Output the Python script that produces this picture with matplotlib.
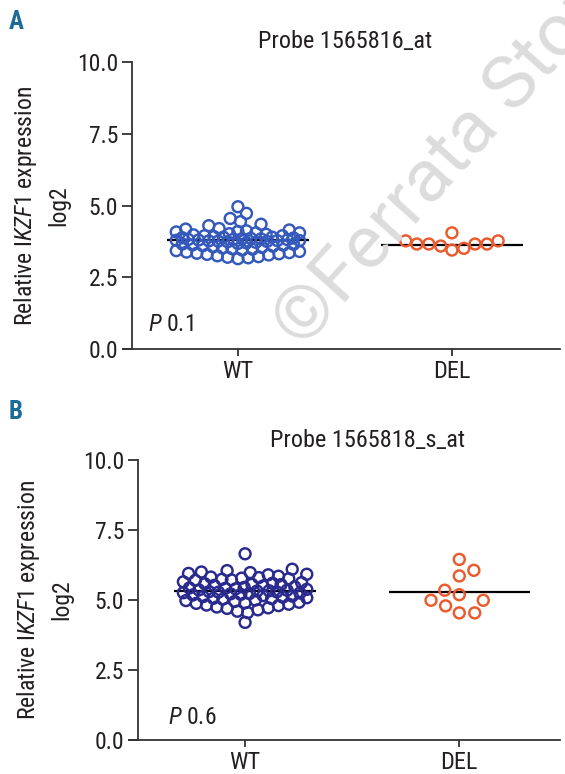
import numpy as np
import matplotlib
matplotlib.use("Agg")
import matplotlib.pyplot as plt

FAM = ['Roboto Condensed', 'Liberation Sans Narrow', 'Roboto', 'DejaVu Sans']
plt.rcParams['font.family'] = FAM
plt.rcParams['mathtext.fontset'] = 'custom'
plt.rcParams['mathtext.rm'] = 'Roboto Condensed'
plt.rcParams['mathtext.it'] = 'Roboto Condensed:italic'

# --- data ---
groups = ['WT', 'DEL']

probe_a = 'Probe 1565816_at'
wt_a = [4.96, 4.73, 4.55, 4.44, 4.35, 4.30,
        4.20, 4.18, 4.15, 4.12, 4.10, 4.08, 4.05, 4.05, 4.02,
        4.00, 3.98, 3.95, 3.95, 3.92, 3.90, 3.90, 3.88, 3.87, 3.86, 3.85,
        3.84, 3.83, 3.82, 3.81, 3.80, 3.79, 3.78, 3.78, 3.77, 3.76, 3.75,
        3.74, 3.72, 3.70, 3.68, 3.66, 3.65, 3.63, 3.62, 3.60, 3.58, 3.56,
        3.54, 3.52, 3.50, 3.48, 3.45, 3.43, 3.40, 3.38, 3.36, 3.34, 3.32,
        3.30, 3.28, 3.25, 3.22, 3.20, 3.18, 3.15]
del_a = [3.66, 3.66, 3.59, 3.77, 3.45, 3.77, 3.51, 4.05, 3.66, 3.66]
med_a = [3.80, 3.64]
p_a = '0.1'

probe_b = 'Probe 1565818_s_at'
wt_b = [6.65,
        6.10, 6.05, 6.00, 5.98, 5.95, 5.92, 5.90,
        5.85, 5.82, 5.80, 5.78, 5.76, 5.74, 5.72, 5.70,
        5.65, 5.62, 5.60, 5.58, 5.56, 5.55, 5.52, 5.50,
        5.47, 5.45, 5.43, 5.42, 5.40, 5.38, 5.36, 5.35, 5.33, 5.32,
        5.30, 5.29, 5.28, 5.26, 5.25, 5.23, 5.22, 5.20, 5.18, 5.16,
        5.14, 5.12, 5.10, 5.08, 5.06, 5.05, 5.03, 5.00,
        4.98, 4.95, 4.92, 4.90, 4.88, 4.85, 4.82, 4.80,
        4.75, 4.72, 4.70, 4.65, 4.60, 4.55,
        4.20]
del_b = [6.45, 6.06, 5.86, 5.35, 5.19, 4.99, 4.99, 4.79, 4.54, 4.54]
med_b = [5.31, 5.29]
p_b = '0.6'

yticks = [0.0, 2.5, 5.0, 7.5, 10.0]


def swarm(vals, sx, sy, min_px, maxw, step=0.004):
    # beeswarm kept inside +-maxw; once full, points overlap where there is most room
    vals = np.asarray(vals, float)
    order = np.argsort(vals)
    n = int(round(maxw / step))
    cands = [0.0]
    for k in range(1, n + 1):
        cands += [k * step, -k * step]
    cands = np.array(cands)
    placed_o, placed_v = [], []
    offs = np.zeros(len(vals))
    for i in order:
        if placed_o:
            po = np.array(placed_o)
            pv = np.array(placed_v)
            d = np.sqrt(((cands[:, None] - po[None, :]) * sx) ** 2 +
                        ((vals[i] - pv[None, :]) * sy) ** 2).min(axis=1)
            good = np.where(d >= min_px)[0]
            j = good[0] if len(good) else int(np.argmax(d))
        else:
            j = 0
        offs[i] = cands[j]
        placed_o.append(cands[j])
        placed_v.append(vals[i])
    return offs


fig = plt.figure(figsize=(5.65, 7.74), dpi=100)

panels = [
    dict(rect=[0.2336, 0.549, 0.7575, 0.3708], xlim=(-0.495, 1.505), wt=wt_a, dl=del_a,
         med=med_a, wtc='#3459bb', title=probe_a, tx=0.498, p=p_a, px=-0.42, py=0.85,
         letter='A', ly=0.972, sy=28.7, dmin=11.5, lpad=5),
    dict(rect=[0.2442, 0.0439, 0.7469, 0.3618], xlim=(-0.5, 1.47), wt=wt_b, dl=del_b,
         med=med_b, wtc='#2a2a8e', title=probe_b, tx=0.545, p=p_b, px=-0.36, py=0.82,
         letter='B', ly=0.468, sy=28.0, dmin=15.0, lpad=7),
]
del_color = '#ea5a2c'
txt = '#231f20'

for pn in panels:
    ax = fig.add_axes(pn['rect'])
    ax.set_xlim(*pn['xlim'])
    ax.set_ylim(0, 10)
    sx = 214.0
    for gi, (vals, col, md) in enumerate([(pn['wt'], pn['wtc'], 10.0),
                                          (pn['dl'], del_color, pn['dmin'])]):
        ax.hlines(pn['med'][gi], gi - 0.33, gi + 0.33, color='black', lw=1.6, zorder=2)
        offs = swarm(vals, sx, pn['sy'], md, 0.29)
        ax.scatter(gi + offs, vals, s=62, facecolors='none', edgecolors=col,
                   linewidths=1.75, zorder=3, clip_on=False)

    ax.spines['top'].set_visible(False)
    ax.spines['right'].set_visible(False)
    for s in ['left', 'bottom']:
        ax.spines[s].set_linewidth(1.3)
        ax.spines[s].set_color('#333333')
    ax.spines['bottom'].set_bounds(pn['xlim'][0] - 0.04, pn['xlim'][1])
    ax.set_yticks(yticks)
    ax.set_yticklabels([f'{t:.1f}' for t in yticks])
    ax.set_xticks([0, 1])
    ax.set_xticklabels(groups)
    ax.tick_params(axis='y', length=7, width=1.2, labelsize=17, colors=txt, pad=3)
    ax.tick_params(axis='x', length=5, width=1.2, labelsize=17.5, colors=txt, pad=3)
    ax.set_ylabel('Relative I$\\mathit{KZF1}$ expression\nlog2', fontsize=17,
                  color=txt, labelpad=pn['lpad'], linespacing=1.45)
    ax.text(pn['tx'], 1.07, pn['title'], transform=ax.transAxes, ha='center',
            va='center', fontsize=17.5, color=txt)
    ax.text(pn['px'], pn['py'], '$\\mathit{P}$ ' + pn['p'], fontsize=17,
            color=txt, va='center', ha='left')
    fig.text(0.016, pn['ly'], pn['letter'], fontsize=18, fontweight='bold',
             color='#1d6b98', va='center', ha='left')

# publisher watermark
fig.text(0.535, 0.548, '\u00a9Ferrata Storti', fontsize=54, color='#dcdcdc',
         family=['Roboto', 'DejaVu Sans'],
         rotation=48, rotation_mode='anchor', ha='left', va='baseline', zorder=0)

fig.savefig('out.png', dpi=100)
